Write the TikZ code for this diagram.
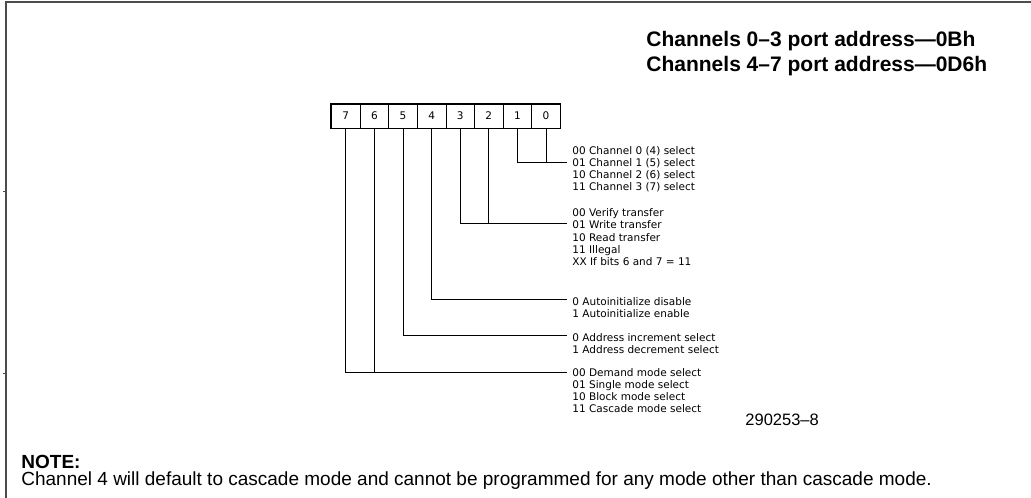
\documentclass[tikz,border=0pt]{standalone}
\usepackage{fontspec}
\setmainfont{Liberation Sans}
\newfontfamily\plotfont{DejaVu Sans}
\usetikzlibrary{positioning}

\tikzset{
  bitcell/.style={draw, minimum width=28.6pt, minimum height=24pt, inner sep=0pt,
    font=\plotfont\fontsize{10.5}{12}\selectfont},
  selbox/.style={anchor=north west, inner sep=0pt, align=left,
    font=\plotfont\fontsize{10.5}{12.2}\selectfont},
}

\begin{document}
\begin{tikzpicture}[x=1pt,y=-1pt,line width=0.8pt]
\useasboundingbox (0,0) rectangle (1031,498);
% frame
\draw[line width=1.5pt, black!70] (6,498) -- (6,2) -- (1031,2);
\foreach \t in {191,373} {
  \draw[line width=0.6pt, black!70] (3,\t) -- (6,\t);
}

% register bits
\foreach \b in {0,...,7} {
  \node[bitcell] (b\b) at ({546-\b*28.6},116) {\b};
}
\draw[line width=1.4pt] (b7.north west) rectangle (b0.south east);

% bit fields
\node[selbox] (chan) at (572,145.8) {00 Channel 0 (4) select\\01 Channel 1 (5) select\\10 Channel 2 (6) select\\11 Channel 3 (7) select};
\node[selbox] (xfer) at (572,208.3) {00 Verify transfer\\01 Write transfer\\10 Read transfer\\11 Illegal\\XX If bits 6 and 7 = 11};
\node[selbox] (auto) at (572,296.8) {0 Autoinitialize disable\\1 Autoinitialize enable};
\node[selbox] (addr) at (572,332.8) {0 Address increment select\\1 Address decrement select};
\node[selbox] (mode) at (572,367.8) {00 Demand mode select\\01 Single mode select\\10 Block mode select\\11 Cascade mode select};

\coordinate (chanin) at (567,162);
\coordinate (xferin) at (567,223.5);
\coordinate (autoin) at (567,299.5);
\coordinate (addrin) at (567,335);
\coordinate (modein) at (567,372);

\draw (b1.south) |- (chanin);
\draw (b0.south) -- (b0.south |- chanin);
\draw (b3.south) |- (xferin);
\draw (b2.south) -- (b2.south |- xferin);
\draw (b4.south) |- (autoin);
\draw (b5.south) |- (addrin);
\draw (b7.south) |- (modein);
\draw (b6.south) -- (b6.south |- modein);

% titles and note
\node[anchor=north west, inner sep=0pt, align=left, font=\bfseries\fontsize{21}{25}\selectfont] (ports) at (646,31) {Channels 0–3 port address—0Bh\\Channels 4–7 port address—0D6h};
\node[anchor=west, inner sep=0pt, font=\fontsize{16.5}{18}\selectfont] (fignum) at (745,420) {290253–8};
\node[anchor=west, inner sep=0pt, font=\bfseries\fontsize{19}{22}\selectfont] (notehead) at (21,462) {NOTE:};
\node[anchor=west, inner sep=0pt, font=\fontsize{19}{22}\selectfont] (notetext) at (21,481) {Channel 4 will default to cascade mode and cannot be programmed for any mode other than cascade mode.};
\end{tikzpicture}
\end{document}
